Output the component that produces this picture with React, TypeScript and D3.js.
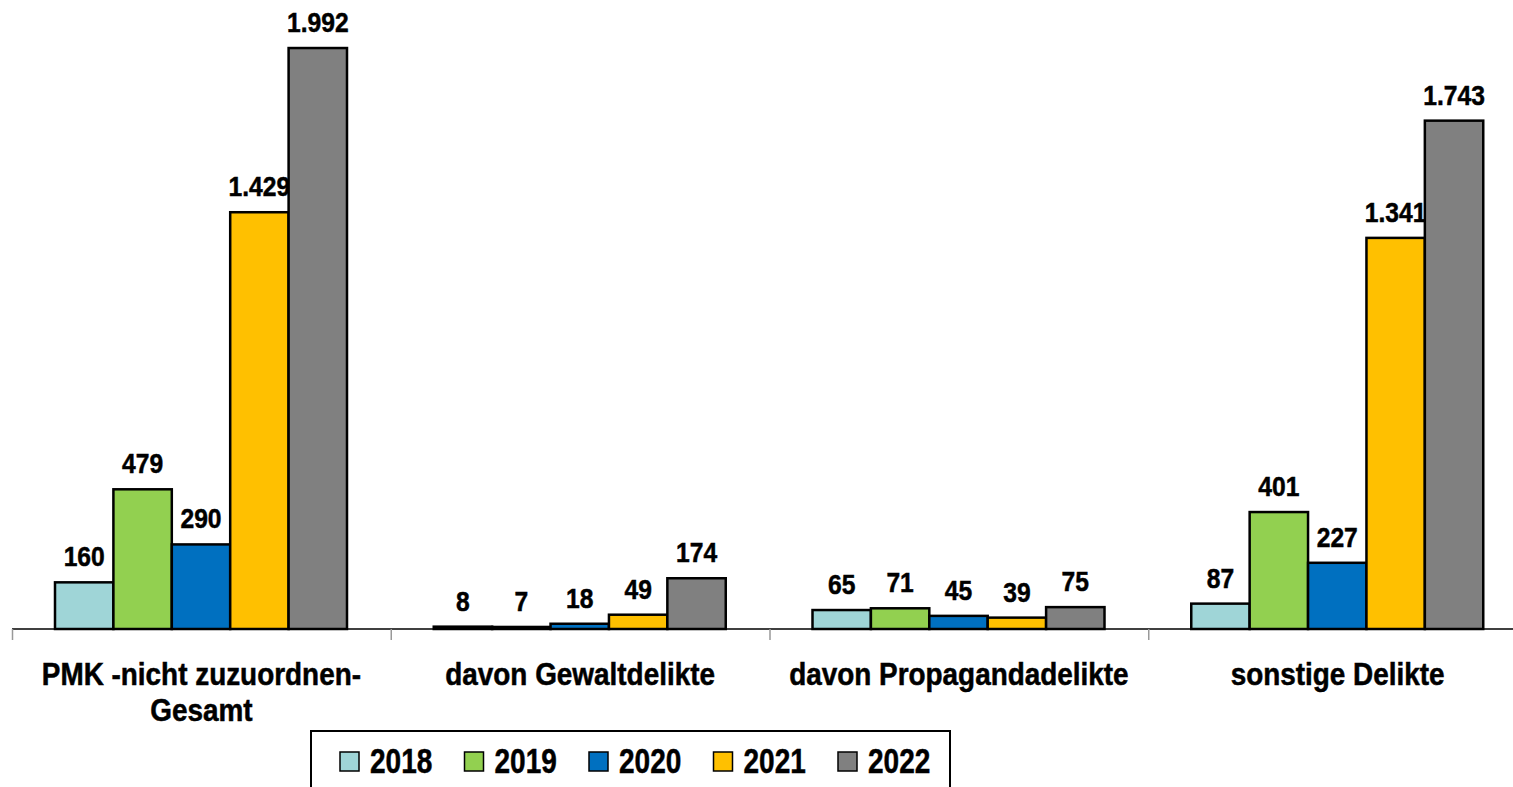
import React from "react";
import * as d3 from "d3";

const categories = [["PMK -nicht zuzuordnen-", "Gesamt"], ["davon Gewaltdelikte"], ["davon Propagandadelikte"], ["sonstige Delikte"]];
const years = ["2018", "2019", "2020", "2021", "2022"];
const colors = ["#9fd5d7", "#92d050", "#0070c0", "#ffc000", "#808080"];
const v2018 = [160, 8, 65, 87];
const v2019 = [479, 7, 71, 401];
const v2020 = [290, 18, 45, 227];
const v2021 = [1429, 49, 39, 1341];
const v2022 = [1992, 174, 75, 1743];
const series = [v2018, v2019, v2020, v2021, v2022];

const FONT = "'Liberation Sans', Arial, sans-serif";
const fmt = (v: number) => d3.format(",")(v).replace(/,/g, ".");

function T({ x, y, sx, size, anchor = "middle", children }: any) {
  return (
    <text transform={`translate(${x},${y}) scale(${sx},1)`} textAnchor={anchor} fontSize={size} fill="#000" stroke="#000" strokeWidth={0.5}>
      {children}
    </text>
  );
}

export default function App() {
  const W = 1513, H = 787;
  const x0 = d3.scaleBand<number>().domain(d3.range(categories.length)).range([12, 1527]).padding(0);
  const x1 = d3.scaleBand<number>().domain(d3.range(years.length)).range([43, 335]).padding(0);
  const y = d3.scaleLinear().domain([0, 2000]).range([629, 45.7]);
  const base = y(0);
  return (
    <svg width={W} height={H} style={{ position: "absolute", left: 0, top: 0, background: "#fff" }} fontFamily={FONT} fontWeight="bold">
      {categories.map((c, ci) => (
        <g key={ci}>
          {series.map((s, si) => {
            const bx = (x0(ci) as number) + (x1(si) as number);
            const bw = x1.bandwidth();
            const top = y(s[ci]);
            return (
              <g key={si}>
                <rect x={bx} y={top} width={bw} height={base - top} fill={colors[si]} stroke="#000" strokeWidth={2.5} />
                <T x={bx + bw / 2} y={top - 16} sx={0.88} size={28}>{fmt(s[ci])}</T>
              </g>
            );
          })}
          {c.map((line, li) => (
            <T key={li} x={(x0(ci) as number) + x0.bandwidth() / 2} y={685 + li * 36} sx={0.9} size={31}>{line}</T>
          ))}
        </g>
      ))}
      <line x1={12} x2={W} y1={base} y2={base} stroke="#000" strokeWidth={1.5} />
      {d3.range(categories.length).map((i) => (
        <line key={i} x1={(x0(i) as number) + 0.5} x2={(x0(i) as number) + 0.5} y1={base} y2={base + 11} stroke="#999" strokeWidth={1.5} />
      ))}
      <rect x={311} y={731} width={639} height={80} fill="#fff" stroke="#000" strokeWidth={2} />
      {years.map((yr, i) => {
        const lx = 340 + i * 124.5;
        return (
          <g key={yr}>
            <rect x={lx} y={752} width={19} height={19} fill={colors[i]} stroke="#000" strokeWidth={1.5} />
            <T x={lx + 30} y={773} sx={0.8} size={35} anchor="start">{yr}</T>
          </g>
        );
      })}
    </svg>
  );
}
